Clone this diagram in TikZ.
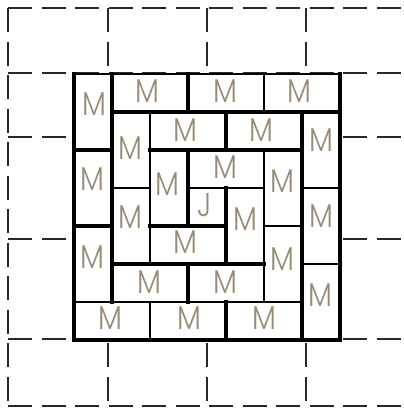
\documentclass[tikz,border=0pt]{standalone}
\usepackage{fontspec}
\usepackage{graphicx}
\newfontfamily\mfont{Poppins Light}
\definecolor{mcol}{RGB}{152,138,118}
\definecolor{gridcol}{RGB}{40,40,40}
\newcommand{\mlet}[1]{\scalebox{0.86}[1]{#1}}
\begin{document}
\begin{tikzpicture}[x=1pt,y=-1pt,
  gridline/.style={draw=gridcol, line width=2.2pt, dash pattern=on 24pt off 9.5pt},
  thinline/.style={draw=black, line width=1.5pt},
  thickline/.style={draw=black, line width=4pt, line cap=rect},
  lab/.style={font=\mfont\fontsize{33}{33}\selectfont, text=mcol, inner sep=0pt}]
\useasboundingbox (0,0) rectangle (404,408);
% dashed background grid
\foreach \x in {8,108,207,306} \draw[gridline] (\x,8) -- (\x,406);
\foreach \y in {8,73,137,239,339,406} \draw[gridline] (8,\y) -- (404,\y);
% box
\fill[white] (74,74) rectangle (340,340);
\begin{scope}[shift={(74,74)}, x=38pt, y=-38pt]
  % thin brick outlines
  \foreach \a/\b/\c/\d in {0/0/1/2, 0/2/1/4, 0/4/1/6, 0/6/2/7, 2/6/4/7, 4/6/6/7,
      6/5/7/7, 6/3/7/5, 6/1/7/3, 1/0/3/1, 3/0/5/1, 5/0/7/1,
      1/1/2/3, 2/1/4/2, 4/1/6/2, 5/2/6/4, 5/4/6/6, 3/5/5/6, 1/5/3/6, 1/3/2/5,
      3/2/5/3, 2/2/3/4, 2/4/4/5, 4/3/5/5, 3/3/4/4}
    \draw[thinline] (\a,\b) rectangle (\c,\d);
  % thick lines
  \draw[thickline] (0,0) -- (0,7) -- (7,7) -- (7,0);
  \draw[thickline] (1,0) -- (1,6);
  \draw[thickline] (3,0) -- (3,1);
  \draw[thickline] (3,2) -- (3,4);
  \draw[thickline] (3,5) -- (3,6);
  \draw[thickline] (4,1) -- (4,2);
  \draw[thickline] (4,3) -- (4,5);
  \draw[thickline] (4,6) -- (4,7);
  \draw[thickline] (6,1) -- (6,7);
  \draw[thickline] (1,1) -- (7,1);
  \draw[thickline] (0,2) -- (1,2);
  \draw[thickline] (2,2) -- (6,2);
  \draw[thickline] (0,4) -- (1,4);
  \draw[thickline] (2,4) -- (4,4);
  \draw[thickline] (1,5) -- (5,5);
\end{scope}
% labels
\node[lab] (mA) at (94,104.5) {\mlet{M}};
\node[lab] (mB) at (92,179.5) {\mlet{M}};
\node[lab] (mC) at (92,257.5) {\mlet{M}};
\node[lab] (mD) at (110.5,318) {\mlet{M}};
\node[lab] (mE) at (189,318) {\mlet{M}};
\node[lab] (mF) at (264,318) {\mlet{M}};
\node[lab] (mG) at (320.5,295.5) {\mlet{M}};
\node[lab] (mH) at (321,216) {\mlet{M}};
\node[lab] (mI) at (321,140) {\mlet{M}};
\node[lab] (mT1) at (147,91.5) {\mlet{M}};
\node[lab] (mT2) at (225.5,91.5) {\mlet{M}};
\node[lab] (mT3) at (299,91.5) {\mlet{M}};
\node[lab] (ma) at (130.5,148.5) {\mlet{M}};
\node[lab] (mg1) at (185,130) {\mlet{M}};
\node[lab] (mg2) at (261,130) {\mlet{M}};
\node[lab] (mf) at (282,181) {\mlet{M}};
\node[lab] (me) at (282,259) {\mlet{M}};
\node[lab] (md) at (225.5,282) {\mlet{M}};
\node[lab] (mc) at (149,282) {\mlet{M}};
\node[lab] (mb) at (130.5,217.5) {\mlet{M}};
\node[lab] (mr2) at (225.5,167.5) {\mlet{M}};
\node[lab] (mcol2) at (167,184.5) {\mlet{M}};
\node[lab] (mr4) at (185.5,242.5) {\mlet{M}};
\node[lab] (mcol4) at (245.5,219) {\mlet{M}};
\node[lab] (mJ) at (205,205) {\mlet{J}};
\end{tikzpicture}
\end{document}
